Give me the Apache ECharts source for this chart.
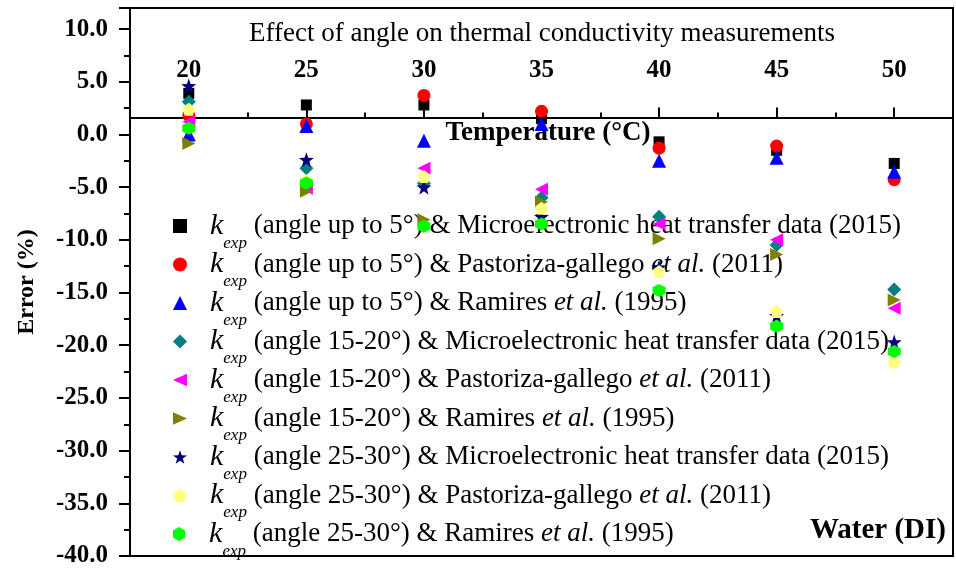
<!DOCTYPE html>
<html><head><meta charset="utf-8">
<script src="https://cdn.jsdelivr.net/npm/echarts@6/dist/echarts.min.js"></script>
<style>html,body{margin:0;padding:0;background:#fff}#c{width:956px;height:571px}</style>
</head><body><div id="c"></div>
<script>
const temperatures = [20, 25, 30, 35, 40, 45, 50];
const xTickLabels = [20, 25, 30, 35, 40, 45, 50];
const xMinorTicks = [22.5, 27.5, 32.5, 37.5, 42.5, 47.5];
const seriesNames = [
  'k_exp (angle up to 5°) & Microelectronic heat transfer data (2015)',
  'k_exp (angle up to 5°) & Pastoriza-gallego et al. (2011)',
  'k_exp (angle up to 5°) & Ramires et al. (1995)',
  'k_exp (angle 15-20°) & Microelectronic heat transfer data (2015)',
  'k_exp (angle 15-20°) & Pastoriza-gallego et al. (2011)',
  'k_exp (angle 15-20°) & Ramires et al. (1995)',
  'k_exp (angle 25-30°) & Microelectronic heat transfer data (2015)',
  'k_exp (angle 25-30°) & Pastoriza-gallego et al. (2011)',
  'k_exp (angle 25-30°) & Ramires et al. (1995)'
];
const up5Micro   = [3.9, 2.8, 2.8, 1.5, -0.7, -1.5, -2.75];
const up5Pasto   = [1.8, 1.0, 3.7, 2.2, -1.3, -1.1, -4.3];
const up5Ramires = [0.0, 0.8, -0.6, 1.0, -2.5, -2.2, -3.55];
const a15Micro   = [3.1, -3.2, -4.65, -6.0, -7.8, -10.5, -14.7];
const a15Pasto   = [1.2, -5.1, -3.2, -5.2, -8.5, -10.0, -16.5];
const a15Ramires = [-0.85, -5.4, -8.1, -6.4, -9.9, -11.4, -15.7];
const a25Micro   = [4.6, -2.4, -5.0, -7.8, -12.6, -17.2, -19.7];
const a25Pasto   = [2.4, -4.4, -4.0, -7.0, -13.0, -16.8, -21.6];
const a25Ramires = [0.6, -4.6, -8.7, -8.5, -14.8, -18.2, -20.6];
const allValues = [up5Micro, up5Pasto, up5Ramires, a15Micro, a15Pasto, a15Ramires, a25Micro, a25Pasto, a25Ramires];

const colors = ['#000000','#ff0000','#0000ff','#008080','#ff00ff','#808000','#000080','#ffff80','#00ff00'];
const symbols = [
  'rect', 'circle', 'triangle', 'diamond',
  'path://M-10,0 L10,-9 L10,9Z',
  'path://M10,0 L-10,-9 L-10,9Z',
  'path://M0,-10 L2.35,-3.24 L9.51,-3.09 L3.80,1.24 L5.88,8.09 L0,4 L-5.88,8.09 L-3.80,1.24 L-9.51,-3.09 L-2.35,-3.24Z',
  'path://M0,-10 L9.51,-3.09 L5.88,8.09 L-5.88,8.09 L-9.51,-3.09Z',
  'path://M0,-10 L8.66,-5 L8.66,5 L0,10 L-8.66,5 L-8.66,-5Z'
];
const sizes = [11, 13, 14, 14, 13, 13, 15, 13, 13];

const FONT = 'Liberation Serif';
const yMin = -40, yMax = 12, xAxisAt = 1.6;
const gridTop = 8, gridBottom = 15, H = 571;
const gridH = H - gridTop - gridBottom;
const xAxisOffset = -((yMax - xAxisAt) / (yMax - yMin)) * gridH;

function legendText(name) {
  let rest = name.replace('k_exp ', '');
  let parts = rest.split('et al.');
  let s = '{k|k}{s|exp}{t| ' + parts[0] + '}';
  if (parts.length > 1) s += '{i|et al.}{t|' + parts[1] + '}';
  return s;
}

const rich = {
  k: {fontFamily: FONT, fontStyle: 'italic', fontSize: 30, color: '#000', padding: [0, 0, 0, 18], lineHeight: 34},
  s: {fontFamily: FONT, fontStyle: 'italic', fontSize: 17, color: '#000', verticalAlign: 'bottom', lineHeight: 17, padding: [0, 0, -9, 0]},
  t: {fontFamily: FONT, fontSize: 27, color: '#000', lineHeight: 34},
  i: {fontFamily: FONT, fontSize: 27, fontStyle: 'italic', color: '#000', lineHeight: 34}
};

const legends = seriesNames.map((n, i) => ({
  data: [n], left: 173, top: 225 + i * 38.5 - 14, padding: 0,
  itemWidth: 14, itemHeight: 14, selectedMode: false,
  formatter: legendText, textStyle: {rich: rich}
}));

const series = seriesNames.map((n, i) => ({
  name: n, type: 'scatter', symbol: symbols[i], symbolSize: sizes[i],
  itemStyle: {color: colors[i], opacity: 1},
  data: temperatures.map((t, j) => [t, allValues[i][j]]),
  xAxisIndex: 0, yAxisIndex: 0, z: 2 + i
}));

const chart = echarts.init(document.getElementById('c'), null, {renderer: 'canvas'});
chart.setOption({
  animation: false,
  backgroundColor: '#fff',
  title: {text: 'Effect of angle on thermal conductivity measurements', left: 537, textAlign: 'center', top: 15,
    textStyle: {fontFamily: FONT, fontWeight: 'normal', fontSize: 27, color: '#000'}},
  grid: {left: 130, right: 3, top: gridTop, bottom: gridBottom, show: true, borderColor: '#000', borderWidth: 2, backgroundColor: 'transparent'},
  legend: legends,
  xAxis: [{
    type: 'value', min: 17.5, max: 52.5, position: 'top', offset: xAxisOffset,
    axisLine: {show: true, onZero: false, lineStyle: {color: '#000', width: 2}},
    axisTick: {show: true, length: 10, inside: false, lineStyle: {width: 2, color: '#000'}, customValues: xTickLabels},
    axisLabel: {show: true, margin: 35, customValues: xTickLabels, fontFamily: FONT, fontWeight: 'bold', fontSize: 25, color: '#000'},
    splitLine: {show: false}
  }, {
    type: 'value', min: 17.5, max: 52.5, position: 'top', offset: xAxisOffset,
    axisLine: {show: false, onZero: false},
    axisTick: {show: true, length: 5, lineStyle: {width: 2, color: '#000'}, customValues: xMinorTicks},
    axisLabel: {show: false},
    splitLine: {show: false}
  }],
  yAxis: {
    type: 'value', min: yMin, max: yMax, interval: 5,
    name: 'Error (%)', nameLocation: 'middle', nameGap: 91, nameRotate: 90,
    nameTextStyle: {fontFamily: FONT, fontWeight: 'bold', fontSize: 24, color: '#000'},
    axisLine: {show: true, onZero: false, lineStyle: {color: '#000', width: 2}},
    axisTick: {show: true, length: 11, lineStyle: {width: 2, color: '#000'}},
    minorTick: {show: true, splitNumber: 2, length: 6, lineStyle: {width: 2, color: '#000'}},
    axisLabel: {margin: 22, fontFamily: FONT, fontWeight: 'bold', fontSize: 25, color: '#000',
      formatter: v => v.toFixed(1)},
    splitLine: {show: false}
  },
  graphic: [
    {type: 'text', x: 548, y: 133, style: {text: 'Temperature (°C)', fontFamily: FONT, fontWeight: 'bold', fontSize: 27, fill: '#000', align: 'center', verticalAlign: 'middle'}},
    {type: 'text', x: 946, y: 531, style: {text: 'Water (DI)', fontFamily: FONT, fontWeight: 'bold', fontSize: 29, fill: '#000', align: 'right', verticalAlign: 'middle'}}
  ],
  series: series
});
</script></body></html>
